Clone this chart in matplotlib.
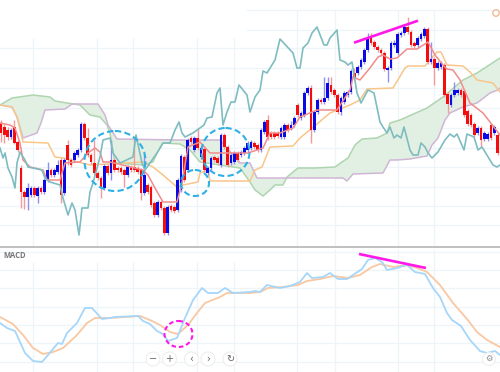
import numpy as np
import matplotlib
matplotlib.use("Agg")
import matplotlib.pyplot as plt
from matplotlib.patches import Ellipse

# ---- candles: values (price scale runs top-down, 0 at the top)
body_top = [123,127,130,130,127,142,168,192,188,188,188,188,188,180,170,170,170,165,160,160,
            145,160,153,150,124,124,138,155,163,173,178,166,166,160,160,168,168,170,167,167,
            167,168,170,175,185,187,203,202,202,208,207,206,207,180,156,157,140,138,138,138,
            148,149,168,158,157,158,135,135,147,155,153,153,152,148,143,142,143,145,130,122,
            120,133,133,133,128,125,125,125,118,105,113,93,88,88,112,100,100,98,83,85,
            90,95,98,93,92,71,73,67,60,50,38,38,42,47,50,53,68,43,43,34,
            33,27,27,32,43,38,34,29,29,59,59,63,63,65,94,95,90,90,90,91,
            111,115,124,128,128,133,134,125,127,135,130]
body_bottom = [133,135,137,137,143,150,192,197,197,195,195,196,192,192,180,175,175,172,195,193,
               160,165,160,155,150,138,155,162,173,178,188,188,173,173,170,170,172,175,175,170,
               170,172,193,193,192,205,215,215,208,233,233,210,211,210,190,180,170,142,150,148,
               157,170,173,168,160,163,165,147,165,163,162,160,155,153,150,148,147,150,150,132,
               137,137,137,136,137,137,130,128,125,115,118,115,93,130,130,112,102,102,98,92,
               95,112,112,102,95,92,78,73,67,62,50,43,47,50,53,69,70,68,45,53,
               35,33,32,45,46,45,39,36,62,62,68,68,67,95,104,105,95,93,95,115,
               124,125,135,133,140,139,139,138,133,153,135]
wick_high = [120,124,127,128,120,140,165,190,183,186,186,186,186,178,162,168,168,160,158,158,
             140,158,151,148,122,122,128,153,140,171,176,164,164,140,158,166,166,168,165,165,
             137,166,168,155,183,185,201,200,200,206,205,204,205,178,154,155,138,136,136,128,
             146,147,166,156,155,156,133,133,145,153,151,151,150,146,141,140,141,143,128,120,
             115,131,131,131,126,123,123,121,116,103,111,91,86,85,110,98,98,77,77,77,
             88,93,96,91,90,69,68,65,58,48,33,33,40,45,48,51,66,41,40,32,
             31,25,17,30,41,36,32,27,27,42,57,61,61,63,92,93,82,88,88,89,
             109,113,122,126,126,131,132,123,125,133,128]
wick_low = [142,143,140,139,144,152,208,209,210,197,197,203,194,194,182,177,177,174,203,195,
            165,167,162,157,152,140,157,164,175,180,198,190,175,180,172,172,174,187,177,172,
            172,174,200,195,194,207,217,217,210,235,235,212,213,212,192,182,172,144,152,150,
            159,172,175,170,162,165,167,149,167,165,164,162,157,155,152,150,149,152,152,134,
            140,139,139,138,139,139,132,130,127,117,120,117,95,143,132,114,104,104,100,94,
            97,114,115,104,97,94,80,75,69,64,52,45,49,52,55,71,82,70,47,55,
            37,35,34,47,48,47,41,38,64,64,85,70,69,97,113,107,97,95,97,117,
            126,127,137,135,147,141,141,140,135,155,137]
candle_kind = ("rrrbrrrrbbrbrbbrbbrb" "rrbbbrrrrrrbrbrrrrbr" "rrrbrrrbrrbrrbbrbrbr"
               "brbbrrbrrbbrbbbbrrbb" "rrrrbbrbbrbbbrbbrbbr" "rrbbbbrbbbbrrrrrbbbb"
               "bbrrrbbbrbrbbrrbbbrr" "rrrbrbbrbrb")
candle_up = [c == 'b' for c in candle_kind]
candle_step = 10 / 3

# ---- Ichimoku
chikou_x = [0,3,5,8,12,15,17,20,25,28,33,42,45,50,60,63,68,72,75,79,82,88,90,93,100,103,110,113,120,133,136,142,145,150,157,163,170,175,179,182,185,193,204,207,212,217,220,223,227,231,235,239,247,250,255,260,263,267,275,280,293,297,300,303,308,312,317,324,327,330,337,340,345,348,352,357,361,368,374,380,383,387,390,394,397,401,404,410,413,418,421,425,428,432,438,445,450,454,457,464,467,474,478,482,493,497,500]
chikou_y = [148,158,153,168,177,188,163,152,160,167,168,170,178,182,185,198,215,203,210,235,208,208,192,183,157,140,138,153,163,157,135,163,170,163,153,143,143,130,122,133,137,133,125,118,117,93,88,125,112,102,102,85,95,112,97,90,71,73,60,39,53,68,68,48,43,33,27,45,45,38,30,60,62,65,62,93,103,90,93,122,127,133,127,138,135,138,127,150,155,155,143,147,153,158,152,140,134,137,134,150,134,137,150,147,165,167,165]
tenkan_x = [0,10,15,20,23,30,43,47,60,65,80,88,95,100,103,110,143,148,155,163,177,182,188,200,210,220,227,248,263,270,280,293,300,317,337,350,353,360,370,378,383,390,397,407,417,428,435,443,447,453,460,470,483,490,500]
tenkan_y = [123,125,128,143,160,167,170,180,180,163,162,153,148,152,162,162,170,175,188,202,202,183,147,142,153,153,153,153,148,133,133,128,117,110,110,90,77,80,68,57,55,59,58,49,49,42,55,65,69,70,80,103,113,122,135]
kijun_x = [0,12,17,23,48,55,63,78,90,143,153,163,177,183,198,200,208,210,250,255,262,270,293,300,317,330,350,360,367,393,405,408,425,437,441,447,463,470,477,493,500]
kijun_y = [105,107,117,142,143,157,158,162,165,162,167,175,187,185,182,173,170,181,181,170,167,147,146,138,124,113,105,100,89,88,68,66,66,52,52,65,66,72,80,83,92]
span_b_x = [0,12,17,23,37,41,45,65,72,98,105,108,117,177,220,240,250,257,343,347,353,383,390,397,410,427,432,438,445,450,463,477,490,498,500]
span_b_y = [105,107,117,138,133,123,110,109,104,104,115,125,139,140,140,163,163,178,178,181,174,173,160,160,159,156,145,138,120,113,107,103,93,90,88]
span_a_x = [0,12,33,50,55,67,80,90,100,107,110,115,143,153,157,163,180,190,200,220,240,250,255,263,270,275,283,287,298,315,335,342,348,355,362,377,387,390,400,427,443,463,477,500]
span_a_y = [105,98,95,97,101,103,105,115,117,125,133,163,165,162,153,143,144,150,162,165,168,182,190,196,190,185,185,177,168,168,167,162,158,145,139,138,133,123,120,108,97,80,73,58]

# ---- MACD
macd_x = [0,7,15,20,25,33,42,48,58,62,67,77,85,92,102,110,115,138,143,150,157,163,168,177,185,193,202,208,218,225,233,250,255,260,267,280,290,300,307,312,323,330,338,347,353,362,368,375,382,387,397,407,415,425,433,440,447,452,461,470,480,487,495,500]
macd_y = [323,328,331,342,353,361,362,355,343,344,333,323,308,308,319,318,317,316,321,324,331,334,341,338,318,300,288,293,293,288,293,292,291,292,285,288,286,282,273,278,277,273,279,279,275,269,260,258,262,270,268,265,272,274,288,297,313,320,326,340,351,353,351,355]
signal_x = [0,13,23,33,43,53,63,77,87,95,110,140,150,160,170,178,188,197,205,220,227,240,250,260,268,283,298,307,320,333,348,360,372,380,393,407,417,427,440,453,467,477,487,500]
signal_y = [317,324,335,348,354,352,348,335,323,318,318,316,320,325,332,334,325,313,303,297,293,293,293,292,288,287,285,281,279,276,278,275,267,264,267,265,268,272,285,303,319,332,340,347]

# ---- grid
grid_x_left = [32.5, 96.5, 133, 197, 233.5]
grid_x_right = [297, 334.5, 398, 434]
grid_y_price = [48, 68, 88, 108, 128, 148, 167, 187, 206, 225]
grid_y_price_right = [10, 30]
grid_y_macd = [252, 270, 288, 307, 325, 343, 362]

# ---- annotations
cyan_circles = [(115, 161, 61, 60), (195, 183, 28, 26), (225.5, 152, 48, 48)]
pink_circle = (178.5, 334, 28, 26)
pink_trend_price = ([354, 418], [42.7, 20.7])
pink_trend_macd = ([359, 426], [254, 268])
button_x = [153, 169.5, 191.5, 208, 230]
button_labels = ["\u2212", "+", "\u2039", "\u203a", "\u21bb"]

C_GRID = "#edf5f9"
BLUE, RED = "#0a0ae6", "#f50d0d"

fig = plt.figure(figsize=(5, 3.72), dpi=100)
H = 372
ax = fig.add_axes([0, 1 - 247 / H, 1, 247 / H])
am = fig.add_axes([0, 0, 1, 125 / H])
ax.set_xlim(0, 500); ax.set_ylim(247, 0)
am.set_xlim(0, 500); am.set_ylim(372, 247)
for a in (ax, am):
    a.set_xticks([]); a.set_yticks([])
    for s in a.spines.values():
        s.set_visible(False)

# grid
ax.vlines(grid_x_left, 38, 247, color=C_GRID, lw=0.9, zorder=0)
ax.vlines(grid_x_right, 10, 247, color=C_GRID, lw=0.9, zorder=0)
ax.hlines(grid_y_price, 0, 500, color=C_GRID, lw=0.9, zorder=0)
ax.hlines(grid_y_price_right, 246, 500, color=C_GRID, lw=0.9, zorder=0)
am.vlines(grid_x_left, 262, 372, color=C_GRID, lw=0.9, zorder=0)
am.vlines(grid_x_right, 249, 372, color=C_GRID, lw=0.9, zorder=0)
am.hlines(grid_y_macd, 0, 500, color=C_GRID, lw=0.9, zorder=0)

# cloud
gx = np.arange(0, 501)
ga = np.interp(gx, span_a_x, span_a_y)
gb = np.interp(gx, span_b_x, span_b_y)
ax.fill_between(gx, ga, gb, color="#e2f0e3", lw=0, zorder=1)
ax.plot(span_a_x, span_a_y, color="#aed5b0", lw=1.1, zorder=2)
ax.plot(span_b_x, span_b_y, color="#d0b6d6", lw=1.1, zorder=2)
ax.plot(kijun_x, kijun_y, color="#f8c688", lw=1.1, zorder=2)

# candles
n = len(body_top)
xs = 1 + candle_step * np.arange(n)
colors = [BLUE if candle_up[i] else RED for i in range(n)]
wick_colors = ["#8f8ff2" if candle_up[i] else "#f59a9a" for i in range(n)]
ax.vlines(xs, wick_high, wick_low, colors=wick_colors, lw=1.0, zorder=3)
heights = np.array(body_bottom) - np.array(body_top)
ax.bar(xs, heights, bottom=body_top, width=2.8, color=colors, lw=0, zorder=4)

ax.plot(tenkan_x, tenkan_y, color="#f28c8c", lw=1.1, zorder=5)
ax.plot(chikou_x, chikou_y, color="#7fbcc0", lw=1.2, zorder=5)

# annotations
for cx, cy, w, h in cyan_circles:
    ax.add_patch(Ellipse((cx, cy), w, h, fill=False, ec="#2fb0e4", lw=1.5,
                         ls=(0, (3, 1.6)), zorder=6))
ax.plot(*pink_trend_price, color="#ff18e8", lw=1.9, zorder=7, solid_capstyle="butt")
ax.add_patch(Ellipse((496, 13), 6.5, 6.5, fill=False, ec="#f2b48a", lw=0.9, zorder=7))

# MACD
am.plot(signal_x, signal_y, color="#f9c8a2", lw=1.3, zorder=3)
am.plot(macd_x, macd_y, color="#a6d6f9", lw=1.3, zorder=4)
am.plot(*pink_trend_macd, color="#ff18e8", lw=1.9, zorder=7, solid_capstyle="butt")
cx, cy, w, h = pink_circle
am.add_patch(Ellipse((cx, cy), w, h, fill=False, ec="#ff18e8", lw=1.5,
                     ls=(0, (2.2, 1.4)), zorder=6))
am.text(3, 255.5, "MACD", fontsize=5.5, color="#777777", fontweight="bold",
        va="center", ha="left", family="Open Sans")

# separator
fig.add_artist(plt.Line2D([0, 1], [1 - 247 / H] * 2, color="#b5b5b5", lw=1.2))

# controls
for bx, lab in zip(button_x, button_labels):
    am.add_patch(Ellipse((bx, 359), 14, 14, fc="white", ec="#eeeeee", lw=0.8, zorder=8))
    am.text(bx, 358.7, lab, fontsize=7, color="#666666", ha="center", va="center", zorder=9)
am.add_patch(Ellipse((489, 359), 13, 13, fc="white", ec="#eeeeee", lw=0.8, zorder=8))
am.text(489, 358.7, "\u2699", fontsize=6, color="#8a8a8a", ha="center", va="center", zorder=9)

fig.savefig("out.png", dpi=100)
